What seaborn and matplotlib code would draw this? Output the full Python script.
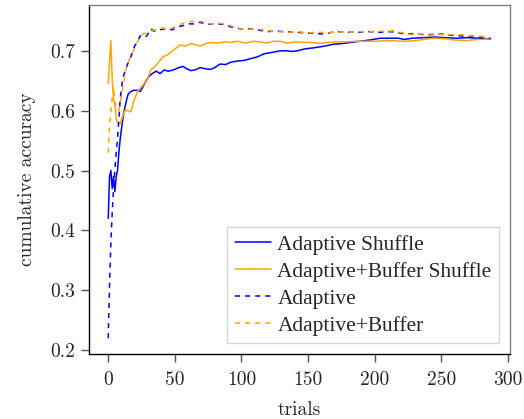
import matplotlib
matplotlib.use('Agg')
import matplotlib.pyplot as plt
import seaborn as sns

# Adaptive Shuffle (blue, solid)
trials_adaptive_shuffle = [0, 1, 2, 3, 4, 5, 6, 7, 8, 9, 11, 12, 14, 15, 17, 19, 22, 24, 26, 28,
                           30, 33, 36, 39, 42, 45, 47, 50, 53, 56, 59, 62, 65, 69, 73, 77, 80, 84, 88, 92,
                           97, 102, 107, 112, 117, 122, 129, 134, 138, 142, 147, 154, 160, 165, 169, 175, 182, 189, 196, 204,
                           212, 218, 222, 228, 237, 245, 252, 262, 270, 278, 287]
acc_adaptive_shuffle = [0.42, 0.49, 0.50, 0.47, 0.49, 0.465, 0.49, 0.50, 0.53, 0.553, 0.587, 0.60, 0.62, 0.628, 0.632, 0.634, 0.634, 0.632, 0.640, 0.648,
                        0.656, 0.662, 0.666, 0.662, 0.668, 0.666, 0.667, 0.669, 0.672, 0.674, 0.670, 0.667, 0.668, 0.672, 0.670, 0.669, 0.672, 0.678, 0.677, 0.681,
                        0.683, 0.684, 0.687, 0.690, 0.695, 0.697, 0.700, 0.700, 0.699, 0.700, 0.703, 0.705, 0.707, 0.709, 0.711, 0.712, 0.714, 0.716, 0.718, 0.721,
                        0.721, 0.721, 0.719, 0.721, 0.722, 0.723, 0.722, 0.721, 0.722, 0.721, 0.720]

# Adaptive+Buffer Shuffle (orange, solid)
trials_buffer_shuffle = [0, 2, 3, 4, 5, 6, 7, 9, 11, 13, 14, 17, 19, 22, 25, 29, 32, 36, 41, 45,
                         50, 54, 58, 62, 66, 69, 73, 77, 82, 87, 92, 97, 103, 109, 114, 119, 124, 129, 134, 140,
                         147, 153, 159, 165, 172, 179, 186, 194, 201, 208, 214, 219, 224, 230, 237, 244, 247, 253, 260, 269,
                         277, 287]
acc_buffer_shuffle = [0.645, 0.717, 0.653, 0.62, 0.609, 0.587, 0.58, 0.578, 0.592, 0.602, 0.600, 0.598, 0.615, 0.632, 0.640, 0.650, 0.668, 0.676, 0.690, 0.694,
                      0.703, 0.710, 0.708, 0.712, 0.710, 0.708, 0.712, 0.714, 0.713, 0.715, 0.714, 0.716, 0.713, 0.716, 0.715, 0.713, 0.716, 0.716, 0.713, 0.715,
                      0.714, 0.714, 0.712, 0.714, 0.715, 0.715, 0.716, 0.716, 0.716, 0.717, 0.717, 0.716, 0.716, 0.717, 0.719, 0.721, 0.721, 0.720, 0.718, 0.717,
                      0.719, 0.720]

# Adaptive (blue, dashed)
trials_adaptive = [0, 1, 2, 3, 4, 5, 6, 7, 9, 11, 14, 17, 20, 22, 24, 27, 29, 32, 34, 37,
                   40, 44, 48, 52, 56, 60, 64, 67, 70, 74, 77, 82, 87, 92, 97, 100, 106, 112, 119, 125,
                   132, 140, 148, 155, 162, 168, 174, 180, 188, 196, 204, 212, 218, 224, 230, 236, 242, 250, 257, 264,
                   270, 277, 283, 287]
acc_adaptive = [0.22, 0.31, 0.38, 0.43, 0.47, 0.50, 0.53, 0.553, 0.62, 0.655, 0.675, 0.69, 0.709, 0.715, 0.725, 0.722, 0.725, 0.737, 0.733, 0.733,
                0.736, 0.737, 0.735, 0.740, 0.742, 0.745, 0.745, 0.748, 0.747, 0.744, 0.745, 0.745, 0.744, 0.740, 0.738, 0.736, 0.737, 0.735, 0.732, 0.733,
                0.732, 0.731, 0.730, 0.729, 0.728, 0.731, 0.732, 0.731, 0.731, 0.732, 0.731, 0.732, 0.730, 0.728, 0.729, 0.727, 0.727, 0.728, 0.726, 0.725,
                0.723, 0.723, 0.721, 0.721]

# Adaptive+Buffer (orange, dashed)
trials_buffer = [0, 1, 2, 3, 4, 5, 6, 8, 10, 13, 15, 17, 20, 22, 24, 26, 29, 32, 35, 38,
                 42, 46, 50, 54, 58, 62, 66, 70, 74, 78, 83, 88, 93, 98, 103, 110, 116, 122, 128, 135,
                 142, 150, 158, 165, 172, 180, 188, 196, 204, 210, 214, 219, 227, 232, 237, 244, 250, 258, 264, 270,
                 277, 284, 287]
acc_buffer = [0.53, 0.575, 0.60, 0.62, 0.64, 0.615, 0.605, 0.60, 0.625, 0.665, 0.68, 0.692, 0.705, 0.715, 0.722, 0.728, 0.730, 0.732, 0.735, 0.738,
              0.738, 0.736, 0.740, 0.744, 0.748, 0.749, 0.749, 0.749, 0.746, 0.745, 0.746, 0.745, 0.741, 0.737, 0.736, 0.737, 0.735, 0.733, 0.732, 0.731,
              0.732, 0.730, 0.731, 0.730, 0.732, 0.731, 0.732, 0.732, 0.733, 0.732, 0.734, 0.731, 0.727, 0.728, 0.728, 0.728, 0.727, 0.727, 0.727, 0.726,
              0.725, 0.723, 0.722]

x_ticks = [0, 50, 100, 150, 200, 250, 300]
y_ticks = [0.2, 0.3, 0.4, 0.5, 0.6, 0.7]

sns.set_style('white')

fig = plt.figure(figsize=(5.24, 4.19), dpi=100)
ax = fig.add_axes([0.170, 0.155, 0.803, 0.833])

sns.lineplot(x=trials_adaptive_shuffle, y=acc_adaptive_shuffle, ax=ax, color='blue',
             linewidth=1.1, label='Adaptive Shuffle')
sns.lineplot(x=trials_buffer_shuffle, y=acc_buffer_shuffle, ax=ax, color='orange',
             linewidth=1.1, label='Adaptive+Buffer Shuffle')
sns.lineplot(x=trials_adaptive, y=acc_adaptive, ax=ax, color='blue',
             linewidth=1.1, dashes=(3.3, 3.3), label='Adaptive')
sns.lineplot(x=trials_buffer, y=acc_buffer, ax=ax, color='orange',
             linewidth=1.1, dashes=(3.3, 3.3), label='Adaptive+Buffer')

ax.set_xlim(-14.35, 301.35)
ax.set_ylim(0.1935, 0.7765)
ax.set_xticks(x_ticks)
ax.set_yticks(y_ticks)
ax.tick_params(direction='out', length=6, width=1, color='#555555', pad=4,
               labelsize=14, labelfontfamily='cmr10', left=True, bottom=True)
ax.tick_params(axis='x', pad=6)

for side in ['left', 'bottom']:
    ax.spines[side].set_color('black')
    ax.spines[side].set_linewidth(1.0)
for side in ['top', 'right']:
    ax.spines[side].set_color('#808080')
    ax.spines[side].set_linewidth(1.0)

ax.set_xlabel('trials', fontsize=14, fontfamily='cmr10', labelpad=9)
ax.set_ylabel('cumulative accuracy', fontsize=14, fontfamily='cmr10', labelpad=10)

leg = ax.legend(loc='lower right', frameon=True, fancybox=False,
                handlelength=1.7, handletextpad=0.3, labelspacing=0.33,
                borderpad=0.35, borderaxespad=0.5,
                prop={'family': 'Liberation Serif', 'size': 15.4})
leg.get_frame().set_edgecolor('#cccccc')
leg.get_frame().set_linewidth(1.0)

fig.savefig('out.png', dpi=100)
